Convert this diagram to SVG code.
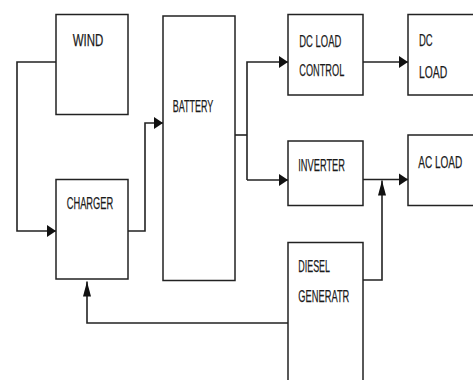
<svg xmlns="http://www.w3.org/2000/svg" width="473" height="380" viewBox="0 0 473 380">
<style>
.box{fill:#fff;stroke:#222;stroke-width:1.5}
.ln{fill:none;stroke:#222;stroke-width:1.6}
.t{font-family:"Liberation Sans",Arial,sans-serif;font-size:17px;fill:#1a1a1a;stroke:#1a1a1a;stroke-width:0.25}
</style>
<defs>
<marker id="ah" markerUnits="userSpaceOnUse" markerWidth="10" markerHeight="13" refX="9" refY="6" orient="auto" overflow="visible">
<path d="M0,0 L9,6 L0,12 z" fill="#111"/>
</marker>
<marker id="av" markerUnits="userSpaceOnUse" markerWidth="16" markerHeight="9" refX="15" refY="4" orient="auto" overflow="visible">
<path d="M0,0 L15,4 L0,8 z" fill="#111"/>
</marker>
</defs>
<rect width="473" height="380" fill="#fff"/>
<g id="connectors">
<path class="ln" d="M56,62 H17 V231 H56" marker-end="url(#ah)"/>
<path class="ln" d="M128,231 H145 V123 H163" marker-end="url(#ah)"/>
<path class="ln" d="M235,135 H247"/>
<path class="ln" d="M247,180 V62 H288" marker-end="url(#ah)"/>
<path class="ln" d="M247,180 H288" marker-end="url(#ah)"/>
<path class="ln" d="M363,62 H408" marker-end="url(#ah)"/>
<path class="ln" d="M363,179.5 H408" marker-end="url(#ah)"/>
<path class="ln" d="M363,280 H382 V180.5" marker-end="url(#av)"/>
<path class="ln" d="M288,323 H87 V281.5" marker-end="url(#av)"/>
</g>
<g id="wind">
<rect class="box" x="56" y="14.5" width="72" height="100"/>
<text class="t" x="72.7" y="46" textLength="30.6" lengthAdjust="spacingAndGlyphs">WIND</text>
</g>
<g id="charger">
<rect class="box" x="56" y="179.5" width="72" height="99.5"/>
<text class="t" x="66.7" y="209" textLength="46.6" lengthAdjust="spacingAndGlyphs">CHARGER</text>
</g>
<g id="battery">
<rect class="box" x="163" y="16" width="72" height="264.5"/>
<text class="t" x="172.7" y="111.5" textLength="40.6" lengthAdjust="spacingAndGlyphs">BATTERY</text>
</g>
<g id="dc-load-control">
<rect class="box" x="288" y="14.5" width="75" height="80.5"/>
<text class="t" x="299.3" y="46.5" textLength="42" lengthAdjust="spacingAndGlyphs">DC LOAD</text>
<text class="t" x="299.3" y="75.5" textLength="45" lengthAdjust="spacingAndGlyphs">CONTROL</text>
</g>
<g id="dc-load">
<rect class="box" x="408" y="14.5" width="80" height="80.5"/>
<text class="t" x="419" y="46" textLength="13.7" lengthAdjust="spacingAndGlyphs">DC</text>
<text class="t" x="419" y="78" textLength="28.3" lengthAdjust="spacingAndGlyphs">LOAD</text>
</g>
<g id="inverter">
<rect class="box" x="288" y="141" width="75" height="64.5"/>
<text class="t" x="298.3" y="170.5" textLength="46.7" lengthAdjust="spacingAndGlyphs">INVERTER</text>
</g>
<g id="ac-load">
<rect class="box" x="408" y="135" width="80" height="70.5"/>
<text class="t" x="418.3" y="168" textLength="44" lengthAdjust="spacingAndGlyphs">AC LOAD</text>
</g>
<g id="diesel-generator">
<rect class="box" x="288" y="242.5" width="75" height="160"/>
<text class="t" x="298.3" y="272" textLength="31.7" lengthAdjust="spacingAndGlyphs">DIESEL</text>
<text class="t" x="298.3" y="301.5" textLength="51" lengthAdjust="spacingAndGlyphs">GENERATR</text>
</g>
</svg>
